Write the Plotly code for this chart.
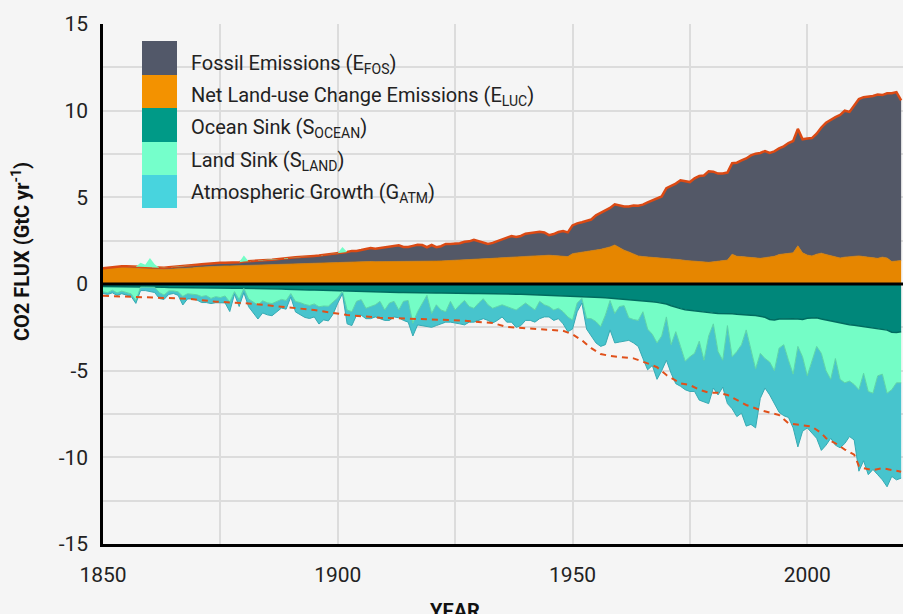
import plotly.graph_objects as go

# ---------------- data (GtC / yr) ----------------
years = list(range(1850, 2021))

fossil = [
    0.05, 0.05, 0.06, 0.06, 0.07, 0.07, 0.08, 0.08, 0.08, 0.08,
    0.09, 0.09, 0.10, 0.10, 0.11, 0.12, 0.12, 0.13, 0.13, 0.14,
    0.15, 0.16, 0.17, 0.18, 0.17, 0.19, 0.19, 0.19, 0.20, 0.21,
    0.24, 0.24, 0.26, 0.27, 0.28, 0.28, 0.28, 0.30, 0.33, 0.33,
    0.36, 0.37, 0.37, 0.37, 0.38, 0.41, 0.42, 0.44, 0.47, 0.51,
    0.53, 0.55, 0.57, 0.62, 0.62, 0.66, 0.71, 0.78, 0.75, 0.79,
    0.82, 0.84, 0.88, 0.94, 0.85, 0.84, 0.90, 0.95, 0.94, 0.81,
    0.93, 0.80, 0.85, 0.97, 0.96, 0.98, 0.98, 1.06, 1.07, 1.15,
    1.05, 0.94, 0.85, 0.89, 0.97, 1.03, 1.13, 1.21, 1.14, 1.19,
    1.30, 1.33, 1.34, 1.39, 1.32, 1.16, 1.24, 1.38, 1.45, 1.40,
    1.63, 1.70, 1.72, 1.76, 1.80, 2.00, 2.10, 2.20, 2.25, 2.35,
    2.45, 2.52, 2.62, 2.78, 2.90, 3.00, 3.15, 3.28, 3.45, 3.55,
    4.05, 4.20, 4.35, 4.58, 4.58, 4.55, 4.80, 4.95, 5.00, 5.25,
    5.20, 5.05, 5.02, 5.05, 5.25, 5.40, 5.55, 5.68, 5.90, 6.02,
    6.08, 6.15, 6.00, 6.05, 6.12, 6.20, 6.35, 6.45, 6.75, 6.55,
    6.72, 6.80, 6.95, 7.25, 7.60, 7.85, 8.05, 8.25, 8.45, 8.35,
    8.70, 9.05, 9.20, 9.25, 9.35, 9.45, 9.35, 9.50, 9.70, 9.75,
    9.25,
]

land_use = [
    0.86, 0.90, 0.93, 0.95, 0.96, 0.96, 0.94, 0.92, 0.90, 0.88,
    0.86, 0.85, 0.84, 0.84, 0.85, 0.86, 0.87, 0.88, 0.90, 0.93,
    0.96, 0.98, 1.00, 1.01, 1.02, 1.03, 1.04, 1.04, 1.05, 1.05,
    1.06, 1.07, 1.08, 1.09, 1.10, 1.11, 1.12, 1.13, 1.14, 1.15,
    1.16, 1.17, 1.18, 1.19, 1.20, 1.21, 1.22, 1.23, 1.24, 1.25,
    1.26, 1.27, 1.28, 1.29, 1.29, 1.30, 1.30, 1.30, 1.29, 1.29,
    1.28, 1.28, 1.28, 1.29, 1.29, 1.30, 1.30, 1.31, 1.31, 1.31,
    1.32, 1.32, 1.33, 1.34, 1.35, 1.36, 1.37, 1.38, 1.39, 1.40,
    1.42, 1.44, 1.46, 1.48, 1.50, 1.52, 1.54, 1.56, 1.57, 1.58,
    1.60, 1.61, 1.62, 1.63, 1.65, 1.66, 1.64, 1.62, 1.60, 1.58,
    1.75, 1.80, 1.84, 1.88, 1.92, 1.96, 2.00, 2.06, 2.14, 2.25,
    2.10, 1.95, 1.85, 1.75, 1.62, 1.58, 1.56, 1.55, 1.52, 1.50,
    1.48, 1.46, 1.44, 1.40, 1.36, 1.33, 1.30, 1.28, 1.26, 1.25,
    1.28, 1.32, 1.35, 1.38, 1.72, 1.60, 1.58, 1.56, 1.52, 1.50,
    1.48, 1.52, 1.56, 1.60, 1.70, 1.74, 1.78, 1.80, 2.20, 1.80,
    1.67, 1.62, 1.72, 1.78, 1.70, 1.62, 1.58, 1.50, 1.55, 1.58,
    1.60, 1.62, 1.58, 1.55, 1.50, 1.48, 1.55, 1.50, 1.30, 1.32,
    1.35,
]

ocean_sink = [
    0.15, 0.15, 0.16, 0.16, 0.16, 0.17, 0.17, 0.17, 0.18, 0.18,
    0.18, 0.19, 0.19, 0.19, 0.20, 0.20, 0.20, 0.21, 0.21, 0.21,
    0.22, 0.22, 0.22, 0.23, 0.23, 0.23, 0.24, 0.24, 0.24, 0.25,
    0.25, 0.26, 0.26, 0.27, 0.27, 0.28, 0.28, 0.29, 0.29, 0.30,
    0.30, 0.31, 0.32, 0.33, 0.34, 0.35, 0.36, 0.37, 0.38, 0.39,
    0.40, 0.41, 0.42, 0.43, 0.44, 0.45, 0.45, 0.46, 0.46, 0.47,
    0.47, 0.48, 0.48, 0.49, 0.49, 0.50, 0.50, 0.50, 0.51, 0.51,
    0.52, 0.52, 0.52, 0.53, 0.53, 0.53, 0.54, 0.54, 0.54, 0.55,
    0.55, 0.56, 0.56, 0.56, 0.57, 0.57, 0.58, 0.58, 0.59, 0.59,
    0.60, 0.60, 0.61, 0.62, 0.62, 0.63, 0.64, 0.65, 0.66, 0.67,
    0.68, 0.69, 0.70, 0.72, 0.74, 0.76, 0.78, 0.80, 0.82, 0.86,
    0.88, 0.90, 0.92, 0.94, 0.96, 0.98, 1.00, 1.03, 1.06, 1.10,
    1.15, 1.25, 1.35, 1.42, 1.48, 1.52, 1.56, 1.60, 1.64, 1.68,
    1.68, 1.70, 1.70, 1.72, 1.72, 1.75, 1.78, 1.80, 1.80, 1.82,
    1.85, 1.92, 2.05, 2.08, 2.02, 2.00, 1.98, 2.00, 2.02, 2.05,
    1.98, 1.95, 1.95, 2.02, 2.08, 2.15, 2.20, 2.25, 2.30, 2.35,
    2.38, 2.42, 2.46, 2.50, 2.52, 2.58, 2.60, 2.66, 2.78, 2.80,
    2.75,
]

# land sink (negative value = land acting as a source that year)
land_sink = [
    0.30, 0.35, 0.20, 0.35, 0.25, 0.30, 0.40, 0.80, -0.25, -0.15,
    -0.55, -0.20, 0.30, 0.45, 0.20, 0.20, 0.25, 0.50, 0.35, 0.40,
    0.40, 0.50, 0.45, 0.60, 0.50, 0.55, 0.45, 0.80, 0.20, 0.65,
    -0.35, 0.60, 0.80, 0.95, 0.70, 0.80, 0.85, 0.70, 0.60, 0.65,
    0.25, 0.70, 0.75, 0.85, 0.90, 0.80, 0.95, 0.90, 0.90, 0.65,
    0.40, -0.32, 1.08, 1.17, 0.56, 0.45, 0.95, 0.84, 0.74, 0.53,
    1.03, 0.62, 0.52, 1.01, 0.51, 0.45, 1.77, 1.10, 0.59, 0.14,
    1.18, 0.68, 0.98, 1.07, 0.47, 0.97, 0.66, 0.41, 0.76, 0.85,
    0.55, 0.29, 0.64, 0.84, 0.73, 0.63, 0.72, 0.82, 0.91, 0.71,
    0.50, 0.70, 0.89, 0.38, 0.58, 0.67, 0.86, 0.75, 0.94, 1.23,
    1.40, 0.41, 0.13, 1.26, 1.26, 1.41, 1.68, 1.00, 0.13, 0.84,
    0.42, 0.35, 1.03, 1.11, 1.14, 0.62, 1.60, 1.87, 2.34, 1.90,
    0.75, 2.25, 1.40, 2.18, 2.97, 2.68, 2.44, 1.70, 2.76, 1.32,
    0.62, 2.20, 2.70, 0.68, 2.48, 2.15, 1.72, 0.85, 2.00, 3.08,
    2.15, 2.38, 2.45, 2.92, 1.68, 1.50, 2.42, 3.20, 1.58, 2.15,
    3.32, 2.45, 1.65, 1.98, 2.92, 3.35, 2.10, 3.25, 3.40, 3.25,
    3.42, 3.68, 2.69, 3.70, 3.78, 2.72, 2.60, 3.64, 3.32, 2.90,
    2.95,
]

atm_growth = [
    0.10, 0.10, 0.15, 0.15, 0.15, 0.15, 0.15, 0.15, 0.20, 0.20,
    0.25, 0.30, 0.35, 0.25, 0.20, 0.15, 0.20, 0.50, 0.30, 0.25,
    0.30, 0.35, 0.40, 0.30, 0.35, 0.30, 0.40, 0.55, 0.15, 0.40,
    0.25, 0.45, 0.60, 0.80, 0.70, 0.70, 0.70, 0.60, 0.50, 0.50,
    0.20, 0.60, 0.70, 0.75, 0.75, 0.75, 1.00, 0.80, 0.85, 0.70,
    0.30, 0.15, 0.80, 0.80, 0.80, 0.90, 0.60, 0.70, 0.70, 1.00,
    0.60, 1.00, 0.90, 0.45, 1.10, 1.25, 0.73, 0.76, 1.30, 1.81,
    0.80, 1.20, 0.80, 0.60, 1.20, 0.77, 1.10, 1.41, 0.90, 0.80,
    1.00, 1.15, 0.90, 0.85, 0.80, 0.70, 0.90, 0.80, 1.00, 1.10,
    1.00, 0.80, 0.70, 1.00, 0.70, 0.60, 0.60, 0.60, 0.70, 0.85,
    0.52, 0.50, 0.27, 0.62, 1.00, 1.23, 1.14, 1.70, 1.70, 1.70,
    2.05, 2.05, 1.30, 1.35, 1.50, 2.70, 2.35, 1.80, 2.10, 2.00,
    2.50, 1.65, 3.00, 2.30, 1.65, 2.00, 2.20, 3.40, 2.40, 3.90,
    3.70, 2.50, 1.55, 4.50, 3.00, 3.75, 3.95, 5.55, 4.30, 3.40,
    2.60, 1.70, 1.90, 1.90, 3.70, 4.10, 3.30, 3.10, 5.80, 4.30,
    3.00, 4.20, 5.30, 5.60, 4.30, 3.40, 5.00, 3.95, 3.50, 3.20,
    3.20, 4.70, 5.05, 4.80, 4.40, 5.70, 6.10, 5.40, 5.00, 5.60,
    5.50,
]

# dashed mirror of emissions (magnitude, drawn below zero)
dash_years = [1850, 1856, 1863, 1868, 1874, 1881, 1888, 1895, 1902, 1909,
              1913, 1920, 1926, 1930, 1933, 1936, 1940, 1944, 1948, 1950,
              1952, 1954, 1956, 1958, 1960, 1963, 1966, 1968, 1970, 1973,
              1975, 1977, 1979, 1981, 1983, 1985, 1987, 1990, 1992, 1994,
              1996, 1999, 2001, 2003, 2004, 2006, 2008, 2010, 2011, 2012,
              2014, 2016, 2018, 2020]
dash_values = [0.68, 0.73, 0.77, 0.85, 1.02, 1.12, 1.31, 1.50, 1.79, 1.95,
               1.98, 2.05, 2.10, 2.19, 2.25, 2.48, 2.55, 2.60, 2.70, 2.90,
               3.25, 3.70, 4.04, 4.15, 4.19, 4.29, 4.58, 4.80, 5.25, 5.73,
               5.83, 6.10, 6.27, 6.27, 6.40, 6.69, 6.98, 7.27, 7.40, 7.56,
               8.04, 8.13, 8.23, 8.60, 8.90, 9.19, 9.55, 9.85, 10.50, 10.63,
               10.73, 10.63, 10.73, 10.83]

y_tick_vals = [15, 10, 5, 0, -5, -10, -15]
y_tick_text = ["15", "10", "5", "0", "-5", "-10", "-15"]
x_tick_vals = [1850, 1900, 1950, 2000]
x_tick_text = ["1850", "1900", "1950", "2000"]

legend_labels = [
    "Fossil Emissions (E<sub>FOS</sub>)",
    "Net Land-use Change Emissions (E<sub>LUC</sub>)",
    "Ocean Sink (S<sub>OCEAN</sub>)",
    "Land Sink (S<sub>LAND</sub>)",
    "Atmospheric Growth (G<sub>ATM</sub>)",
]
legend_colors = ["#525869", "#F39200", "#009A87", "#75FFCB", "#48D4DE"]

# ---------------- derived stacks ----------------
total_emis = [f + l for f, l in zip(fossil, land_use)]
land_src_top = [t + max(-s, 0) for t, s in zip(total_emis, land_sink)]
neg_ocean = [-o for o in ocean_sink]
neg_land = [-(o + max(s, 0)) for o, s in zip(ocean_sink, land_sink)]
neg_atm = [-(o + max(s, 0) + a) for o, s, a in zip(ocean_sink, land_sink, atm_growth)]
neg_dash = [-v for v in dash_values]

FONT = "Roboto, 'Liberation Sans', Arial, sans-serif"
BG = "#F5F5F5"

fig = go.Figure()
fig.add_trace(go.Scatter(x=years, y=land_use, mode="lines", fill="tozeroy",
                         fillcolor="#E68600", line=dict(color="#D87D00", width=0.8),
                         hoverinfo="skip", showlegend=False))
fig.add_trace(go.Scatter(x=years, y=total_emis, mode="lines", fill="tonexty",
                         fillcolor="#535867", line=dict(color="#DB4A14", width=2.5),
                         hoverinfo="skip", showlegend=False))
fig.add_trace(go.Scatter(x=years, y=neg_ocean, mode="lines", fill="tozeroy",
                         fillcolor="#00877A", line=dict(color="#006B60", width=1.5),
                         hoverinfo="skip", showlegend=False))
fig.add_trace(go.Scatter(x=years, y=neg_land, mode="lines", fill="tonexty",
                         fillcolor="#74FDC6", line=dict(color="#5CD6A6", width=1),
                         hoverinfo="skip", showlegend=False))
fig.add_trace(go.Scatter(x=years, y=neg_atm, mode="lines", fill="tonexty",
                         fillcolor="#47C4CD", line=dict(color="#36AAB3", width=1),
                         hoverinfo="skip", showlegend=False))
fig.add_trace(go.Scatter(x=years, y=total_emis, mode="lines",
                         line=dict(width=0, color="rgba(0,0,0,0)"),
                         hoverinfo="skip", showlegend=False))
fig.add_trace(go.Scatter(x=years, y=land_src_top, mode="lines", fill="tonexty",
                         fillcolor="#74FDC6", line=dict(width=0, color="rgba(0,0,0,0)"),
                         hoverinfo="skip", showlegend=False))
fig.add_trace(go.Scatter(x=dash_years, y=neg_dash, mode="lines",
                         line=dict(color="#E0501A", width=2, dash="6px,5px"),
                         hoverinfo="skip", showlegend=False))

# zero line
fig.add_shape(type="line", xref="paper", x0=0, x1=1, yref="y", y0=0, y1=0,
              line=dict(color="black", width=3), layer="above")

# plot box in window pixels (page margin removed by post_script)
L_M, T_M = 103, 24
W_FIG, H_FIG = 903, 614
W_PLOT = W_FIG - L_M
H_PLOT = 520
B_M = H_FIG - T_M - H_PLOT


def px_x(p):
    return (p - L_M) / W_PLOT


def px_y(p):
    return (T_M + H_PLOT - p) / H_PLOT


edges = [41, 75, 108, 142, 175, 208]
text_mid = [64, 96, 128, 161, 193]
for i, (lab, col) in enumerate(zip(legend_labels, legend_colors)):
    fig.add_shape(type="rect", xref="paper", yref="paper",
                  x0=px_x(142), x1=px_x(177), y0=px_y(edges[i + 1]), y1=px_y(edges[i]),
                  fillcolor=col, line=dict(width=0), layer="above")
    fig.add_annotation(xref="paper", yref="paper", x=px_x(189), y=px_y(text_mid[i]),
                       xanchor="left", yanchor="middle", showarrow=False,
                       text=lab, font=dict(family=FONT, size=20, color="#222222"))

# axis titles
fig.add_annotation(xref="paper", yref="paper", x=px_x(21), y=px_y(252),
                   xanchor="center", yanchor="middle", textangle=-90, showarrow=False,
                   text="<b>CO2 FLUX (GtC yr<sup>-1</sup>)</b>",
                   font=dict(family=FONT, size=20, color="#111111"))
fig.add_annotation(xref="paper", yref="paper", x=px_x(455), y=px_y(597),
                   xanchor="center", yanchor="top", showarrow=False,
                   text="<b>YEAR</b>", font=dict(family=FONT, size=20, color="#111111"))

x_end = 1850 + W_PLOT / 4.695

fig.update_layout(
    width=W_FIG, height=H_FIG,
    margin=dict(l=L_M, r=0, t=T_M, b=B_M, pad=0),
    paper_bgcolor=BG, plot_bgcolor=BG,
    showlegend=False,
    font=dict(family=FONT, color="#222222"),
    xaxis=dict(range=[1850, x_end], tickvals=x_tick_vals, ticktext=x_tick_text,
               showgrid=True, gridcolor="#DCDCDC", gridwidth=1.5, zeroline=False,
               minor=dict(dtick=25, tick0=1850, showgrid=True, gridcolor="#DCDCDC", gridwidth=1.5),
               showline=True, linecolor="black", linewidth=2.5, layer="above traces",
               ticks="", ticklabelstandoff=10, tickfont=dict(size=21, color="#222222")),
    yaxis=dict(range=[-15, 15], tickvals=y_tick_vals, ticktext=y_tick_text,
               showgrid=True, gridcolor="#DCDCDC", gridwidth=1.5, zeroline=False,
               minor=dict(dtick=2.5, tick0=0, showgrid=True, gridcolor="#DCDCDC", gridwidth=1.5),
               showline=True, linecolor="black", linewidth=2.5, layer="above traces",
               ticks="", ticklabelstandoff=8, tickfont=dict(size=21, color="#222222")),
)

fig.write_html("out.html",
               config={"displayModeBar": False},
               post_script="document.body.style.margin='0px';document.body.style.overflow='hidden';")
